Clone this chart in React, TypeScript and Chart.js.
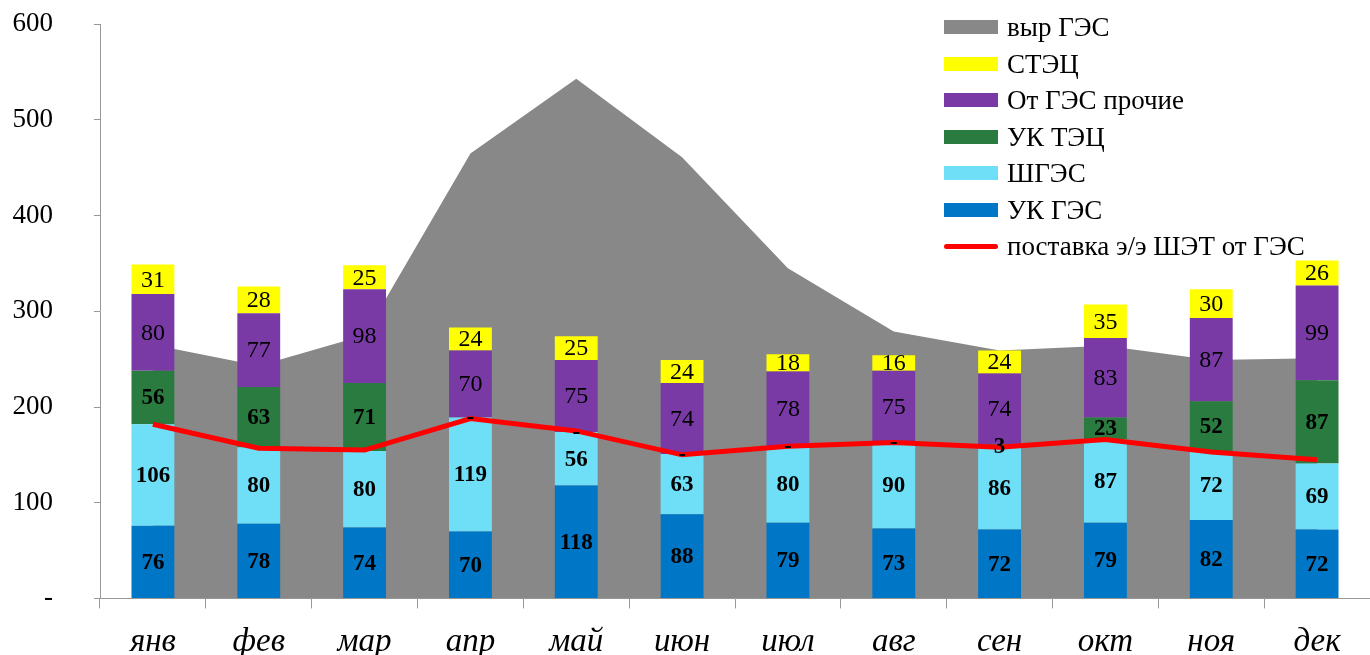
import React, { useEffect, useRef } from "react";
import { Chart, registerables } from "chart.js";

Chart.register(...registerables);

const months = ["янв", "фев", "мар", "апр", "май", "июн", "июл", "авг", "сен", "окт", "ноя", "дек"];
const vyrGES = [265, 243, 275, 465, 543, 461, 345, 279, 259, 264, 249, 251];
const ukGES = [76, 78, 74, 70, 118, 88, 79, 73, 72, 79, 82, 72];
const shGES = [106, 80, 80, 119, 56, 63, 80, 90, 86, 87, 72, 69];
const ukTEC = [56, 63, 71, 0, 0, 0, 0, 0, 3, 23, 52, 87];
const otGESprochie = [80, 77, 98, 70, 75, 74, 78, 75, 74, 83, 87, 99];
const sTEC = [31, 28, 25, 24, 25, 24, 18, 16, 24, 35, 30, 26];
const postavka = [182, 157, 155, 188, 175, 150, 159, 163, 158, 166, 153, 145];
const yTicks = [0, 100, 200, 300, 400, 500, 600];

const C_GRAY = "#888888";
const C_YELLOW = "#FFFF00";
const C_PURPLE = "#7A3AA6";
const C_GREEN = "#2A7B40";
const C_CYAN = "#6EDFF6";
const C_BLUE = "#0077C6";
const C_RED = "#FF0000";

const FONT = "'Liberation Serif', 'Times New Roman', serif";

const legendItems = [
  { label: "выр ГЭС", color: C_GRAY, line: false },
  { label: "СТЭЦ", color: C_YELLOW, line: false },
  { label: "От ГЭС прочие", color: C_PURPLE, line: false },
  { label: "УК ТЭЦ", color: C_GREEN, line: false },
  { label: "ШГЭС", color: C_CYAN, line: false },
  { label: "УК ГЭС", color: C_BLUE, line: false },
  { label: "поставка э/э ШЭТ от ГЭС", color: C_RED, line: true },
];

const labelPlugin = {
  id: "barLabels",
  afterDatasetsDraw(chart: any) {
    const ctx = chart.ctx;
    chart.data.datasets.forEach((ds: any, i: number) => {
      if (ds.type !== "bar") return;
      const meta = chart.getDatasetMeta(i);
      meta.data.forEach((el: any, j: number) => {
        const v = ds.data[j];
        const txt = v === 0 ? "-" : String(v);
        const cy = (el.y + el.base) / 2;
        ctx.save();
        ctx.fillStyle = "#000";
        ctx.textAlign = "center";
        ctx.textBaseline = "middle";
        ctx.font = ds.labelBold ? `bold 23px ${FONT}` : `24px ${FONT}`;
        ctx.fillText(txt, el.x, cy + 1);
        ctx.restore();
      });
    });
  },
};

const CANVAS_TOP = -33;
const CANVAS_H = 709;

export default function App() {
  const ref = useRef<HTMLCanvasElement>(null);
  useEffect(() => {
    document.body.style.margin = "0";
    const barDs = (label: string, data: number[], color: string, bold: boolean) => ({
      type: "bar" as const,
      label,
      data,
      backgroundColor: color,
      borderWidth: 0,
      stack: "bars",
      order: 2,
      barPercentage: 0.405,
      categoryPercentage: 1,
      labelBold: bold,
    });
    const chart = new Chart(ref.current!, {
      data: {
        labels: months,
        datasets: [
          {
            type: "line",
            label: "выр ГЭС",
            data: vyrGES,
            fill: "origin",
            backgroundColor: C_GRAY,
            borderColor: C_GRAY,
            borderWidth: 0,
            pointRadius: 0,
            tension: 0,
            stack: "area",
            order: 3,
          } as any,
          barDs("УК ГЭС", ukGES, C_BLUE, true),
          barDs("ШГЭС", shGES, C_CYAN, true),
          barDs("УК ТЭЦ", ukTEC, C_GREEN, true),
          barDs("От ГЭС прочие", otGESprochie, C_PURPLE, false),
          barDs("СТЭЦ", sTEC, C_YELLOW, false),
          {
            type: "line",
            label: "поставка э/э ШЭТ от ГЭС",
            data: postavka,
            fill: false,
            borderColor: C_RED,
            borderWidth: 5,
            pointRadius: 0,
            tension: 0,
            stack: "line",
            order: 1,
          } as any,
        ],
      },
      options: {
        animation: false,
        responsive: false,
        maintainAspectRatio: false,
        layout: { padding: { top: 0, right: 0, left: 12, bottom: 0 } },
        plugins: { legend: { display: false }, tooltip: { enabled: false } },
        scales: {
          x: {
            stacked: true,
            offset: true,
            grid: {
              offset: true,
              drawOnChartArea: false,
              drawTicks: true,
              tickLength: 10,
              color: "#999",
            },
            border: { color: "#999", width: 1 },
            ticks: {
              color: "#000",
              padding: 14,
              font: { family: FONT, size: 33, style: "italic" },
            },
          },
          y: {
            stacked: true,
            min: 0,
            max: 600,
            afterBuildTicks: (axis: any) => {
              axis.ticks = yTicks.map((v) => ({ value: v }));
            },
            afterFit: (scale: any) => {
              scale.width = 88;
            },
            grid: {
              drawOnChartArea: false,
              drawTicks: true,
              tickLength: 6,
              color: "#999",
            },
            border: { color: "#999", width: 1 },
            ticks: {
              color: "#000",
              padding: 41,
              font: { family: FONT, size: 27 },
              callback: (v: any) => (v === 0 ? "-" : String(v)),
            },
          },
        },
      },
      plugins: [labelPlugin],
    });
    return () => chart.destroy();
  }, []);

  return (
    <div style={{ position: "absolute", left: 0, top: 0, width: 1370, height: 655, background: "#fff", overflow: "hidden" }}>
      <canvas
        ref={ref}
        width={1370}
        height={CANVAS_H}
        style={{ position: "absolute", left: 0, top: CANVAS_TOP, width: 1370, height: CANVAS_H }}
      />
      <div style={{ position: "absolute", left: 944, top: 9, fontFamily: FONT, fontSize: 27, color: "#000" }}>
        {legendItems.map((it) => (
          <div key={it.label} style={{ display: "flex", alignItems: "center", height: 36.5 }}>
            {it.line ? (
              <div style={{ width: 54, height: 5, background: it.color, borderRadius: 3, marginRight: 9 }} />
            ) : (
              <div style={{ width: 54, height: 14, background: it.color, marginRight: 9 }} />
            )}
            <span style={{ whiteSpace: "nowrap", lineHeight: "36px" }}>{it.label}</span>
          </div>
        ))}
      </div>
    </div>
  );
}
